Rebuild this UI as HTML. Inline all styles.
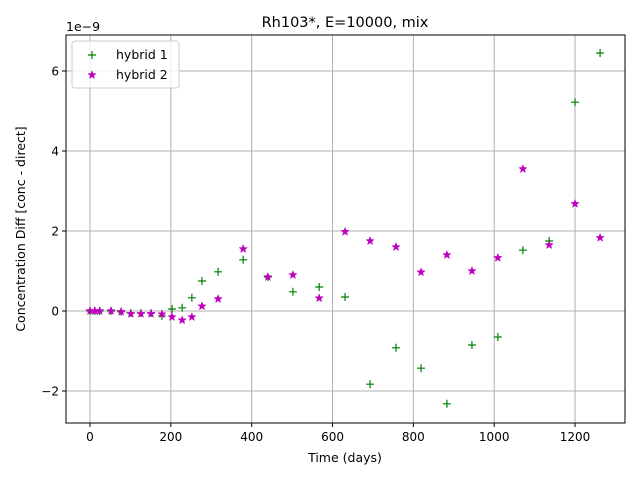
<!DOCTYPE html>
<html><head><meta charset="utf-8"><style>
body{margin:0;background:#fff;font-family:"Liberation Sans","DejaVu Sans",sans-serif}
svg text{font-family:"DejaVu Sans","Liberation Sans",sans-serif;font-size:12px}
</style></head><body>
<svg id="c" width="640" height="480"></svg>
<script>
const days=[0,12,24,52,77,101,126,151,178,203,228,252,277,317,379,440,502,567,631,693,757,819,883,945,1009,1071,1136,1200,1262];
const hybrid1=[0,0,0,0,-0.02,-0.05,-0.05,-0.05,-0.12,0.05,0.08,0.33,0.75,0.98,1.28,0.85,0.48,0.6,0.35,-1.83,-0.92,-1.43,-2.32,-0.85,-0.65,1.52,1.75,5.22,6.45];
const hybrid2=[0,0,0,0,-0.02,-0.07,-0.07,-0.07,-0.08,-0.15,-0.23,-0.15,0.12,0.3,1.55,0.85,0.9,0.32,1.98,1.75,1.6,0.97,1.4,1.0,1.33,3.55,1.65,2.68,1.83];
const xTicks=[0,200,400,600,800,1000,1200];
const yTicks=[-2,0,2,4,6];
const L=66,R=625,T=35,B=423;
const xs=d=>90+d*0.4042, ys=v=>311-v*40;
const svg=document.getElementById('c');const NS='http://www.w3.org/2000/svg';
function mk(t,a,p){const e=document.createElementNS(NS,t);for(const k in a)e.setAttribute(k,a[k]);(p||svg).appendChild(e);return e;}
xTicks.forEach(t=>{const x=xs(t);
const g=mk('line',{x1:x,x2:x,y1:T,y2:B,stroke:'#b0b0b0','stroke-width':1});

mk('line',{x1:x,x2:x,y1:B,y2:B+4,stroke:'#000'});
const l=mk('text',{x:x,y:B+18,'text-anchor':'middle'});l.textContent=t;
});
yTicks.forEach(t=>{const y=ys(t);
const g=mk('line',{x1:L,x2:R,y1:y,y2:y,stroke:'#b0b0b0','stroke-width':1});

mk('line',{x1:L-4,x2:L,y1:y,y2:y,stroke:'#000'});
const l=mk('text',{x:L-7,y:y+4.5,'text-anchor':'end'});l.textContent=t<0?'\u2212'+(-t):t;
});
const fr=mk('rect',{x:L,y:T,width:R-L,height:B-T,fill:'none',stroke:'#000','stroke-width':1});

function plus(x,y,n){const g=mk('path',{d:`M${x-4},${y}h8M${x},${y-4}v8`,stroke:'#008000','stroke-width':1.2,fill:'none'});}
function star(x,y,n){let p='';for(let i=0;i<10;i++){const r=i%2?1.8:4.3,a=-Math.PI/2+i*Math.PI/5;p+=(i?'L':'M')+(x+r*Math.cos(a)).toFixed(2)+','+(y+r*Math.sin(a)).toFixed(2);}
const g=mk('path',{d:p+'Z',fill:'#bf00bf',stroke:'#bf00bf','stroke-width':0.5});}
days.forEach((d,i)=>plus(xs(d),ys(hybrid1[i]),'hybrid1-point'));
days.forEach((d,i)=>star(xs(d),ys(hybrid2[i]),'hybrid2-point'));
const lg=mk('g',{});
mk('rect',{x:72,y:41,width:107,height:47,rx:3,fill:'#fff','fill-opacity':0.8,stroke:'#ccc'},lg);
plus(92,55,'legend-marker-hybrid1');star(92,75,'legend-marker-hybrid2');
let t=mk('text',{x:116,y:59},lg);t.style.fontSize='12.5px';t.textContent='hybrid 1';
t=mk('text',{x:116,y:79},lg);t.style.fontSize='12.5px';t.textContent='hybrid 2';
t=mk('text',{x:345,y:27,'text-anchor':'middle'});t.style.fontSize='14.5px';t.textContent='Rh103*, E=10000, mix';
t=mk('text',{x:345,y:462,'text-anchor':'middle'});t.style.fontSize='12.5px';t.textContent='Time (days)';
t=mk('text',{x:25,y:229,'text-anchor':'middle',transform:'rotate(-90 25 229)'});t.style.fontSize='12.5px';t.textContent='Concentration Diff [conc - direct]';
t=mk('text',{x:66,y:31});t.style.fontSize='12.5px';t.textContent='1e\u22129';
</script>
</body></html>
